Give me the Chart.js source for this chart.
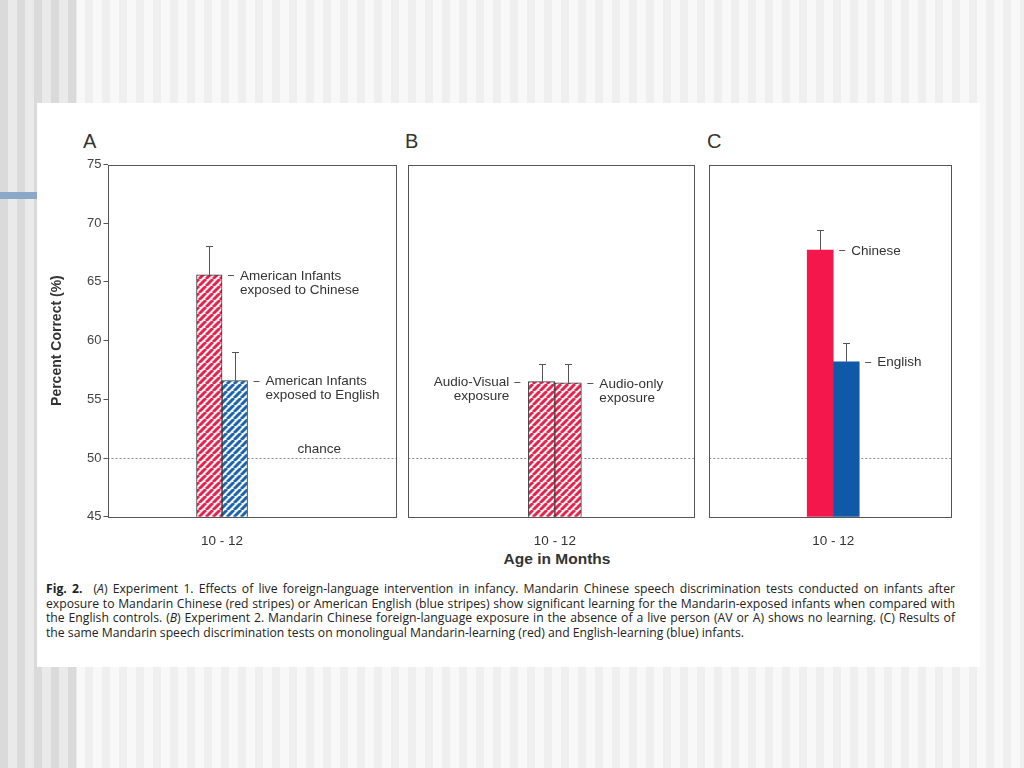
<!DOCTYPE html>
<html>
<head>
<meta charset="utf-8">
<script src="https://cdn.jsdelivr.net/npm/chart.js@4.4.1/dist/chart.umd.min.js"></script>
<style>
html, body { margin: 0; padding: 0; }
body {
    width: 1024px; height: 768px; position: relative; overflow: hidden;
    background: repeating-linear-gradient(90deg, #efefef 0 8px, #f8f8f8 8px 17px);
    font-family: "Liberation Sans", Arial, sans-serif; color: #333;
}
#leftband { position: absolute; left: 0; top: 0; width: 77px; height: 768px;
    background: repeating-linear-gradient(90deg, #dadada 0 8px, #eaeaea 8px 17px); }
#blueline { position: absolute; left: 0; top: 192px; width: 40px; height: 7px; background: #8aa9c9; }
#sheet { position: absolute; left: 37px; top: 103px; width: 943px; height: 564px; background: #fff; }
canvas { position: absolute; }
.letter { position: absolute; font-size: 20px; line-height: 20px; color: #333; }
#xtitle { position: absolute; left: 457px; width: 200px; top: 550px; text-align: center;
    font-weight: bold; font-size: 15.5px; line-height: 18px; color: #333; }
#caption { position: absolute; left: 46px; top: 582px; width: 909px;
    font-family: "Open Sans", "Noto Sans", sans-serif; font-size: 12.2px; line-height: 14.7px; color: #222; }
#caption .ln { text-align: justify; text-align-last: justify; white-space: nowrap; }
#caption .last { text-align: left; text-align-last: left; white-space: nowrap; }
#caption .fig { font-weight: bold; margin-right: 11px; }
</style>
</head>
<body>
<div id="leftband"></div>
<div id="blueline"></div>
<div id="sheet"></div>
<div class="letter" style="left:83px; top:131px;">A</div>
<div class="letter" style="left:405px; top:131px;">B</div>
<div class="letter" style="left:707px; top:131px;">C</div>
<canvas id="chart-a" width="353" height="422" style="left:45px; top:125px;"></canvas>
<canvas id="chart-b" width="300" height="422" style="left:400px; top:125px;"></canvas>
<canvas id="chart-c" width="255" height="422" style="left:703px; top:125px;"></canvas>
<div id="xtitle">Age in Months</div>
<div id="caption">
<div class="ln"><span class="fig">Fig. 2.</span>(<i>A</i>) Experiment 1. Effects of live foreign-language intervention in infancy. Mandarin Chinese speech discrimination tests conducted on infants after</div>
<div class="ln">exposure to Mandarin Chinese (red stripes) or American English (blue stripes) show significant learning for the Mandarin-exposed infants when compared with</div>
<div class="ln">the English controls. (<i>B</i>) Experiment 2. Mandarin Chinese foreign-language exposure in the absence of a live person (AV or A) shows no learning. (C) Results of</div>
<div class="last">the same Mandarin speech discrimination tests on monolingual Mandarin-learning (red) and English-learning (blue) infants.</div>
</div>
<script>
const ageLabel = '10 - 12';
const yTicks = [45, 50, 55, 60, 65, 70, 75];
const chanceLevel = 50;

// A: live exposure
const aNotes = [['American Infants', 'exposed to Chinese'], ['American Infants', 'exposed to English']];
const aValues = [65.6, 56.6];
const aErrors = [2.5, 2.4];

// B: recorded exposure
const bNotes = [['Audio-Visual', 'exposure'], ['Audio-only', 'exposure']];
const bValues = [56.5, 56.4];
const bErrors = [1.5, 1.6];

// C: monolingual infants
const cNotes = [['Chinese'], ['English']];
const cValues = [67.7, 58.2];
const cErrors = [1.7, 1.6];

const textFont = '13.5px "Liberation Sans", Arial, sans-serif';

function stripes(color, light) {
    const s = 7;
    const c = document.createElement('canvas');
    c.width = s; c.height = s;
    const g = c.getContext('2d');
    g.fillStyle = light;
    g.fillRect(0, 0, s, s);
    g.strokeStyle = color;
    g.lineWidth = 2.9;
    g.beginPath();
    for (let k = -1; k <= 1; k++) {
        g.moveTo(k * s, s);
        g.lineTo(k * s + s, 0);
    }
    g.stroke();
    return g.createPattern(c, 'repeat');
}

const redStripes = stripes('#e3224d', '#fdf0f2');
const blueStripes = stripes('#1f63aa', '#eef4fa');

const panelPlugin = {
    id: 'panelPlugin',
    beforeDatasetsDraw(chart) {
        const ctx = chart.ctx;
        const area = chart.chartArea;
        const y = chart.scales.y.getPixelForValue(chanceLevel);
        ctx.save();
        ctx.strokeStyle = '#8a8a8a';
        ctx.lineWidth = 1;
        ctx.setLineDash([2, 2]);
        ctx.beginPath();
        ctx.moveTo(area.left, Math.round(y) + 0.5);
        ctx.lineTo(area.right, Math.round(y) + 0.5);
        ctx.stroke();
        ctx.setLineDash([]);
        const opts = chart.options.plugins.panelPlugin;
        if (opts.chanceText) {
            ctx.fillStyle = '#333';
            ctx.font = textFont;
            ctx.textAlign = 'center';
            ctx.textBaseline = 'middle';
            ctx.fillText(opts.chanceText, chart.scales.x.getPixelForValue(opts.chanceAt), y - 8.5);
        }
        ctx.restore();
    },
    afterDatasetsDraw(chart) {
        const ctx = chart.ctx;
        const yScale = chart.scales.y;
        ctx.save();
        ctx.font = textFont;
        ctx.textBaseline = 'middle';
        chart.data.datasets.forEach(function (ds, i) {
            const meta = chart.getDatasetMeta(i);
            meta.data.forEach(function (bar, j) {
                // error bar
                const top = Math.round(yScale.getPixelForValue(ds.data[j].y + ds.errors[j])) + 0.5;
                const cx = Math.round(bar.x) + 0.5;
                ctx.strokeStyle = '#555';
                ctx.lineWidth = 1;
                ctx.beginPath();
                ctx.moveTo(cx, bar.y);
                ctx.lineTo(cx, top);
                ctx.moveTo(cx - 3.5, top);
                ctx.lineTo(cx + 3.5, top);
                ctx.stroke();
                // note next to the bar
                const ly = Math.round(bar.y) + 0.5;
                const half = bar.width / 2;
                ctx.fillStyle = '#333';
                ctx.beginPath();
                if (ds.side === 'left') {
                    const edge = bar.x - half;
                    ctx.moveTo(edge - 8, ly);
                    ctx.lineTo(edge - 14, ly);
                    ctx.stroke();
                    ctx.textAlign = 'right';
                    ds.note.forEach(function (t, k) { ctx.fillText(t, edge - 19, bar.y + 1 + k * 14); });
                } else {
                    const edge = bar.x + half;
                    ctx.moveTo(edge + 6, ly);
                    ctx.lineTo(edge + 12, ly);
                    ctx.stroke();
                    ctx.textAlign = 'left';
                    ds.note.forEach(function (t, k) { ctx.fillText(t, edge + 18, bar.y + 1 + k * 14); });
                }
            });
        });
        ctx.restore();
    },
    afterDraw(chart) {
        const ctx = chart.ctx;
        const a = chart.chartArea;
        ctx.save();
        ctx.strokeStyle = '#555';
        ctx.lineWidth = 1;
        ctx.strokeRect(Math.round(a.left) + 0.5, Math.round(a.top) + 0.5,
            Math.round(a.right - a.left) - 1, Math.round(a.bottom - a.top));
        ctx.restore();
    }
};

const panels = [
    { id: 'chart-a', at: 0.397, thickness: 25.5, notes: aNotes, values: aValues, errors: aErrors,
      fills: [redStripes, blueStripes], sides: ['right', 'right'], border: 1, showY: true,
      padding: { top: 39.5, left: 0, right: 2, bottom: 0 }, chanceText: 'chance', chanceAt: 0.734 },
    { id: 'chart-b', at: 0.51, thickness: 26.5, notes: bNotes, values: bValues, errors: bErrors,
      fills: [redStripes, redStripes], sides: ['left', 'right'], border: 1, showY: false,
      padding: { top: 39.5, left: 8.3, right: 4.3, bottom: 0 }, chanceText: '' },
    { id: 'chart-c', at: 0.51, thickness: 26, notes: cNotes, values: cValues, errors: cErrors,
      fills: ['#f3174b', '#1059a6'], sides: ['right', 'right'], border: 0, showY: false,
      padding: { top: 39.5, left: 6.3, right: 5.7, bottom: 0 }, chanceText: '' }
];

for (let i = 0; i < panels.length; ++i) {
    const p = panels[i];
    const datasets = [];
    for (let j = 0; j < p.values.length; ++j) {
        datasets.push({
            data: [{ x: p.at, y: p.values[j] }],
            errors: [p.errors[j]],
            note: p.notes[j],
            side: p.sides[j],
            backgroundColor: p.fills[j],
            borderColor: '#3a3a3a',
            borderWidth: p.border,
            barThickness: p.thickness
        });
    }

    let options = {
        responsive: false,
        animation: false,
        events: [],
        layout: { padding: p.padding },
        scales: {
            x: {
                type: 'linear',
                min: 0,
                max: 1,
                offset: false,
                grid: { display: false },
                border: { display: false },
                afterBuildTicks: function (scale) { scale.ticks = [{ value: p.at }]; },
                afterFit: function (scale) { scale.height = 30.3; },
                ticks: {
                    padding: 8.5,
                    maxRotation: 0,
                    autoSkip: false,
                    color: '#333',
                    font: { family: '"Liberation Sans", Arial, sans-serif', size: 13.5 },
                    callback: function () { return ageLabel; }
                }
            },
            y: {
                display: p.showY,
                min: yTicks[0],
                max: yTicks[yTicks.length - 1],
                afterBuildTicks: function (scale) { scale.ticks = yTicks.map(function (v) { return { value: v }; }); },
                grid: { drawOnChartArea: false, drawTicks: true, tickLength: 4, color: '#555' },
                border: { display: false },
                ticks: {
                    padding: 2,
                    color: '#444',
                    font: { family: '"Liberation Sans", Arial, sans-serif', size: 13 }
                },
                title: {
                    display: true,
                    text: 'Percent Correct (%)',
                    color: '#333',
                    padding: { top: 4, bottom: 0 },
                    font: { family: '"Liberation Sans", Arial, sans-serif', size: 14, weight: 'bold' }
                }
            }
        },
        plugins: {
            legend: { display: false },
            tooltip: { enabled: false },
            panelPlugin: { chanceText: p.chanceText, chanceAt: p.chanceAt }
        }
    };

    // only panel A carries a visible y axis, with a fixed width
    if (p.showY) {
        options.scales.y.afterFit = function (scale) { scale.width = 62.5; };
    }

    new Chart(document.getElementById(p.id).getContext('2d'), {
        type: 'bar',
        data: { datasets: datasets },
        options: options,
        plugins: [panelPlugin]
    });
}
</script>
</body>
</html>
